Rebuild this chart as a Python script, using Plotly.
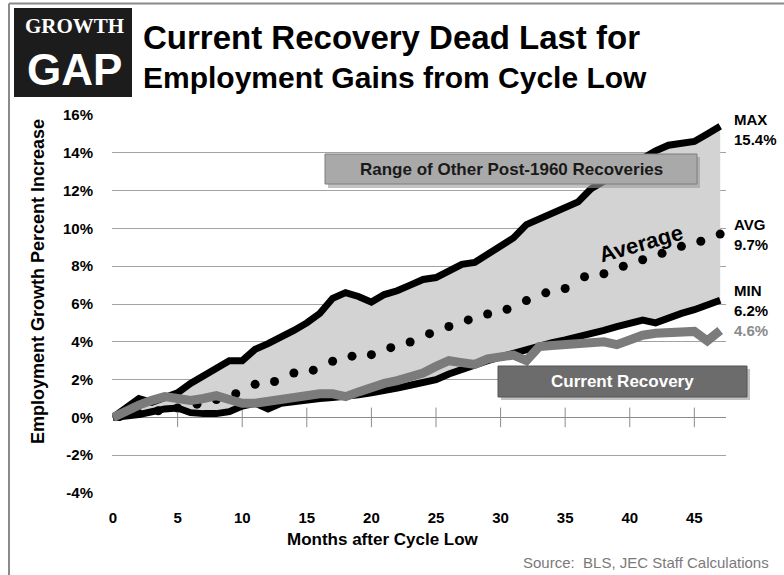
import plotly.graph_objects as go

# ---------------- data ----------------
months = list(range(48))
max_vals = [0.0, 0.5, 1.0, 0.8, 1.1, 1.3, 1.8, 2.2, 2.6, 3.0, 3.0, 3.6, 3.9, 4.2, 4.6, 5.0,
            5.5, 6.3, 6.6, 6.4, 6.1, 6.5, 6.7, 7.0, 7.3, 7.4, 7.8, 8.1, 8.2, 8.6, 9.0, 9.5,
            10.2, 10.5, 10.8, 11.0, 11.4, 12.1, 12.5, 13.0, 13.3, 13.7, 14.1, 14.4, 14.5, 14.6, 15.0, 15.4]
min_vals = [0.0, 0.05, 0.15, 0.3, 0.45, 0.5, 0.25, 0.2, 0.2, 0.3, 0.6, 0.75, 0.45, 0.75, 0.85, 0.95,
            1.0, 1.05, 1.1, 1.2, 1.3, 1.4, 1.55, 1.7, 1.85, 2.0, 2.3, 2.55, 2.8, 3.0, 3.2, 3.4,
            3.6, 3.75, 3.95, 4.1, 4.25, 4.4, 4.6, 4.8, 4.95, 5.15, 5.0, 5.3, 5.5, 5.7, 5.95, 6.2]
current_vals = [0.0, 0.35, 0.65, 0.9, 1.1, 1.0, 0.9, 1.0, 1.15, 0.95, 0.75, 0.75, 0.85, 1.0, 1.1, 1.2,
                1.25, 1.25, 1.1, 1.35, 1.6, 1.8, 1.95, 2.1, 2.35, 2.7, 3.0, 2.9, 2.8, 3.1, 3.2, 3.3,
                3.0, 3.75, 3.8, 3.85, 3.9, 3.95, 4.0, 3.85, 4.15, 4.35, 4.45, 4.5, 4.55, 4.55, 4.05, 4.6]
avg_dot_months = [0.5, 2, 3.5, 5, 6.5, 8, 9.5, 11, 12.5, 14, 15.5, 17, 18.5, 20, 21.5, 23,
                  24.5, 26, 27.5, 29, 30.5, 32, 33.5, 35, 36.5, 38, 39.5, 41, 42.5, 44, 45.5, 47]
avg_dot_vals = [0.05, 0.2, 0.35, 0.5, 0.7, 0.95, 1.25, 1.75, 1.9, 2.35, 2.5, 2.97, 3.24, 3.32, 3.69, 3.99,
                4.43, 4.81, 5.16, 5.47, 5.72, 6.18, 6.59, 6.82, 7.44, 7.6, 8.0, 8.34, 8.68, 9.05, 9.32, 9.7]
x_ticks = [0, 5, 10, 15, 20, 25, 30, 35, 40, 45]
y_ticks = [-4, -2, 0, 2, 4, 6, 8, 10, 12, 14, 16]
y_tick_labels = [f"{v}%" for v in y_ticks]

# ---------------- layout helpers ----------------
W, H = 784, 575
L, R, T, B = 112, 58, 115, 82
PW, PH = W - L - R, H - T - B


def px(xp):
    return (xp - L) / PW


def py(yp):
    return (H - B - yp) / PH


SANS = "Liberation Sans, Arial, sans-serif"
SERIF = "Liberation Serif, Times New Roman, serif"

fig = go.Figure()

# filled range between min and max
fig.add_trace(go.Scatter(x=months, y=min_vals, mode="lines", line=dict(width=0, color="#d3d3d3"),
                         hoverinfo="skip", showlegend=False))
fig.add_trace(go.Scatter(x=months, y=max_vals, mode="lines", line=dict(width=0, color="#d3d3d3"),
                         fill="tonexty", fillcolor="#d3d3d3", hoverinfo="skip", showlegend=False))
# average dots
fig.add_trace(go.Scatter(x=avg_dot_months, y=avg_dot_vals, mode="markers",
                         marker=dict(size=9, color="#000000"), showlegend=False))
# x-axis tick marks crossing the zero line
fig.add_trace(go.Scatter(x=x_ticks[1:], y=[0] * (len(x_ticks) - 1), mode="markers",
                         marker=dict(symbol="line-ns", size=14, line=dict(width=1, color="#8c8c8c")),
                         hoverinfo="skip", showlegend=False))
# min / max lines
fig.add_trace(go.Scatter(x=months, y=min_vals, mode="lines", line=dict(width=7, color="#000000"),
                         showlegend=False))
fig.add_trace(go.Scatter(x=months, y=max_vals, mode="lines", line=dict(width=7, color="#000000"),
                         showlegend=False))
# current recovery
fig.add_trace(go.Scatter(x=months, y=current_vals, mode="lines", line=dict(width=9, color="#7b7b7b"),
                         showlegend=False))

shapes = []
# outer frame (top and left edges)
shapes.append(dict(type="line", xref="paper", yref="paper", x0=px(9), x1=px(790), y0=py(3.5), y1=py(3.5),
                   line=dict(color="#8a8a8a", width=2)))
shapes.append(dict(type="line", xref="paper", yref="paper", x0=px(9), x1=px(9), y0=py(3.5), y1=py(580),
                   line=dict(color="#8a8a8a", width=2)))
# logo
shapes.append(dict(type="rect", xref="paper", yref="paper", x0=px(14), x1=px(132), y0=py(8), y1=py(97),
                   fillcolor="#1c1c1c", line=dict(width=0), layer="above"))
# range box (shadow + box)
shapes.append(dict(type="rect", xref="paper", yref="paper", x0=px(328), x1=px(700), y0=py(157), y1=py(188),
                   fillcolor="#9a9a9a", line=dict(width=0), layer="above", opacity=0.6))
shapes.append(dict(type="rect", xref="paper", yref="paper", x0=px(325), x1=px(697), y0=py(154), y1=py(184),
                   fillcolor="#a9a9a9", line=dict(width=1, color="#7d7d7d"), layer="above"))
# current recovery box (shadow + box)
shapes.append(dict(type="rect", xref="paper", yref="paper", x0=px(501), x1=px(750), y0=py(369), y1=py(400),
                   fillcolor="#9a9a9a", line=dict(width=0), layer="above", opacity=0.6))
shapes.append(dict(type="rect", xref="paper", yref="paper", x0=px(498), x1=px(747), y0=py(366), y1=py(397),
                   fillcolor="#6c6c6c", line=dict(width=1, color="#555555"), layer="above"))

ann = []
# logo text
ann.append(dict(text="<b>GROWTH</b>", xref="paper", yref="paper", x=px(74), y=py(26), showarrow=False,
                xanchor="center", yanchor="middle", font=dict(family=SERIF, size=21, color="#ffffff")))
ann.append(dict(text="<b>GAP</b>", xref="paper", yref="paper", x=px(74), y=py(69), showarrow=False,
                xanchor="center", yanchor="middle", font=dict(family=SANS, size=44, color="#ffffff")))
# title
ann.append(dict(text="<b>Current Recovery Dead Last for</b>", xref="paper", yref="paper", x=px(141), y=py(37),
                showarrow=False, xanchor="left", yanchor="middle", font=dict(family=SANS, size=33, color="#000")))
ann.append(dict(text="<b>Employment Gains from Cycle Low</b>", xref="paper", yref="paper", x=px(141), y=py(77),
                showarrow=False, xanchor="left", yanchor="middle", font=dict(family=SANS, size=30, color="#000")))
# boxes text
ann.append(dict(text="<b>Range of Other Post-1960 Recoveries</b>", xref="paper", yref="paper", x=px(511), y=py(169),
                showarrow=False, xanchor="center", yanchor="middle", font=dict(family=SANS, size=17, color="#1a1a1a")))
ann.append(dict(text="<b>Current Recovery</b>", xref="paper", yref="paper", x=px(622), y=py(381),
                showarrow=False, xanchor="center", yanchor="middle", font=dict(family=SANS, size=17, color="#ffffff")))
# Average label
ann.append(dict(text="<b>Average</b>", xref="paper", yref="paper", x=px(641), y=py(243), showarrow=False,
                textangle=-16, xanchor="center", yanchor="middle", font=dict(family=SANS, size=22, color="#000")))
# end labels
ann.append(dict(text=f"<b>MAX</b><br><b>{max_vals[-1]:.1f}%</b>", x=months[-1], y=max_vals[-1], xref="x", yref="y",
                xanchor="left", yanchor="middle", xshift=12, yshift=-3, showarrow=False, align="left",
                font=dict(family=SANS, size=15, color="#000")))
ann.append(dict(text=f"<b>AVG</b><br><b>{avg_dot_vals[-1]:.1f}%</b>", x=avg_dot_months[-1], y=avg_dot_vals[-1],
                xref="x", yref="y", xanchor="left", yanchor="middle", xshift=12, showarrow=False, align="left",
                font=dict(family=SANS, size=15, color="#000")))
ann.append(dict(text=f"<b>MIN</b><br><b>{min_vals[-1]:.1f}%</b>", x=months[-1], y=min_vals[-1], xref="x", yref="y",
                xanchor="left", yanchor="middle", xshift=12, showarrow=False, align="left",
                font=dict(family=SANS, size=15, color="#000")))
ann.append(dict(text=f"<b>{current_vals[-1]:.1f}%</b>", x=months[-1], y=current_vals[-1], xref="x", yref="y",
                xanchor="left", yanchor="middle", xshift=12, showarrow=False, align="left",
                font=dict(family=SANS, size=15, color="#8a8a8a")))
# axis titles
ann.append(dict(text="<b>Months after Cycle Low</b>", xref="paper", yref="paper", x=px(383), y=py(539),
                showarrow=False, xanchor="center", yanchor="middle", font=dict(family=SANS, size=17, color="#000")))
ann.append(dict(text="<b>Employment Growth Percent Increase</b>", xref="paper", yref="paper", x=px(38), y=py(282),
                showarrow=False, textangle=-90, xanchor="center", yanchor="middle",
                font=dict(family=SANS, size=18, color="#000")))
# source
ann.append(dict(text="Source:  BLS, JEC Staff Calculations", xref="paper", yref="paper", x=px(771), y=py(562),
                showarrow=False, xanchor="right", yanchor="middle", font=dict(family=SANS, size=15, color="#7a7a7a")))

fig.update_layout(
    width=W, height=H,
    margin=dict(l=L, r=R, t=T, b=B, pad=0),
    paper_bgcolor="#ffffff", plot_bgcolor="#ffffff",
    showlegend=False,
    shapes=shapes, annotations=ann,
    xaxis=dict(range=[-0.08, 47.45], tickmode="array", tickvals=x_ticks,
               ticktext=[f"<b>{v}</b>" for v in x_ticks],
               showgrid=False, zeroline=False, showline=False, ticks="", ticklabelstandoff=14,
               tickfont=dict(family=SANS, size=15, color="#000"), fixedrange=True),
    yaxis=dict(range=[-4, 16], tickmode="array", tickvals=y_ticks, ticktext=[f"<b>{t}</b>" for t in y_tick_labels],
               showgrid=True, gridcolor="#a3a3a3", gridwidth=1, zeroline=True, zerolinecolor="#8c8c8c",
               zerolinewidth=1, showline=False, ticks="", ticklabelstandoff=18,
               tickfont=dict(family=SANS, size=15, color="#000"), fixedrange=True),
)

fig.write_html("out.html", config={"displayModeBar": False},
               post_script="document.body.style.margin='0px';document.body.style.padding='0px';"
                           "document.body.style.overflow='hidden';")
